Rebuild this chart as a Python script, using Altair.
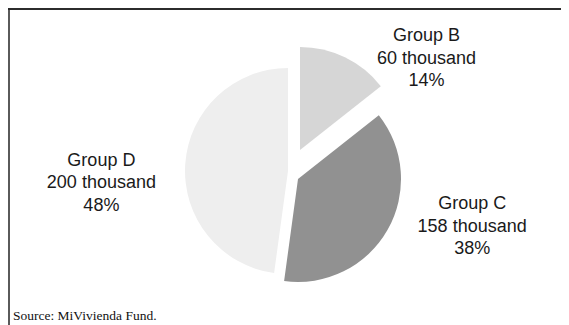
import altair as alt
import pandas as pd

# ---- data ----
groups = ["Group B", "Group C", "Group D"]
values_thousand = [60, 158, 200]
shares = ["14%", "38%", "48%"]
slice_colors = ["#d6d6d6", "#919191", "#eeeeee"]
source_note = "Source: MiVivienda Fund."

df = pd.DataFrame({
    "group": groups,
    "value": values_thousand,
    "share": shares,
    "order": list(range(len(groups))),
})
df["label"] = [f"{g}\n{v} thousand\n{s}" for g, v, s in zip(groups, values_thousand, shares)]

W, H = 553, 317
R = 103

# explosion offsets (style) and label nudges per slice
explode = {"Group B": (15.5, -16.5), "Group C": (13.5, 12.5), "Group D": (3.5, 4.5)}
label_nudge = {"Group B": (68, 23), "Group C": (40, -46.5), "Group D": (-13.5, 5.5)}

color_scale = alt.Scale(domain=groups, range=slice_colors)

base = (
    alt.Chart(df)
    .transform_joinaggregate(total="sum(value)")
    .transform_window(cum="sum(value)", sort=[alt.SortField("order")], frame=[None, 0])
    .transform_calculate(
        a0="2*PI*(datum.cum-datum.value)/datum.total",
        a1="2*PI*datum.cum/datum.total",
        am="PI*(2*datum.cum-datum.value)/datum.total",
    )
)

layers = []
for g in groups:
    ox, oy = explode[g]
    layers.append(
        base.transform_filter(alt.datum.group == g)
        .mark_arc(outerRadius=R, xOffset=ox, yOffset=oy)
        .encode(
            theta=alt.Theta("a0:Q", scale=None),
            theta2="a1:Q",
            color=alt.Color("group:N", scale=color_scale, legend=None),
        )
    )
for g in groups:
    dx, dy = label_nudge[g]
    layers.append(
        base.transform_filter(alt.datum.group == g)
        .mark_text(
            radius=170, dx=dx, dy=dy, align="center", baseline="middle",
            lineBreak="\n", lineHeight=22.5, font="Liberation Sans",
            fontSize=18, color="#1a1a1a",
        )
        .encode(theta=alt.Theta("am:Q", scale=None), text="label:N")
    )

frame_left = alt.Chart(df).mark_rule(color="#5a5a5a", strokeWidth=2).encode(
    x=alt.value(1), y=alt.value(1), y2=alt.value(H)
)
frame_top = alt.Chart(df).mark_rule(color="#2a2a2a", strokeWidth=1.6).encode(
    x=alt.value(0), x2=alt.value(W), y=alt.value(1)
)
note = alt.Chart(pd.DataFrame({"t": [source_note]})).mark_text(
    align="left", baseline="alphabetic", font="Liberation Serif",
    fontSize=13.5, color="#111111",
).encode(x=alt.value(5), y=alt.value(312), text="t:N")

chart = (
    alt.layer(*layers, frame_left, frame_top, note)
    .properties(width=W, height=H, padding=0, autosize=alt.AutoSizeParams(type="none"))
    .configure_view(stroke=None)
)

chart.save("out.html", embed_options={"renderer": "svg", "actions": False})
